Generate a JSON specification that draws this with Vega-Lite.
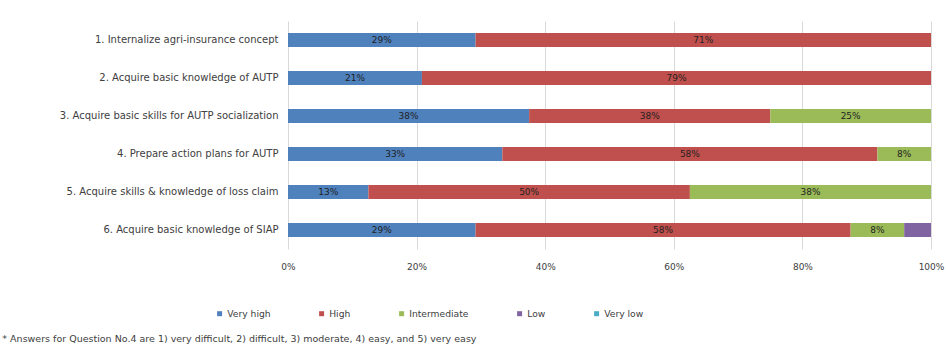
{
  "$schema": "https://vega.github.io/schema/vega-lite/v6.json",
  "width": 643,
  "height": 228,
  "autosize": {"type": "none"},
  "padding": {"left": 288, "top": 21, "right": 15, "bottom": 100},
  "background": "white",
  "config": {
    "font": "DejaVu Sans",
    "view": {"stroke": null},
    "axis": {"labelFont": "DejaVu Sans", "labelColor": "#404040", "labelFontSize": 9.5},
    "legend": {"labelFont": "DejaVu Sans"}
  },
  "title": {
    "text": "* Answers for Question No.4 are 1) very difficult, 2) difficult, 3) moderate, 4) easy, and 5) very easy",
    "orient": "bottom",
    "anchor": "start",
    "fontSize": 9.5,
    "fontWeight": "normal",
    "color": "#404040",
    "dx": -57,
    "offset": 15,
    "font": "DejaVu Sans"
  },
  "data": {
    "values": [
      {"task": "1. Internalize agri-insurance concept", "level": "Very high", "k": 1, "value": 0.2917},
      {"task": "1. Internalize agri-insurance concept", "level": "High", "k": 2, "value": 0.7083},
      {"task": "2. Acquire basic knowledge of AUTP", "level": "Very high", "k": 1, "value": 0.2083},
      {"task": "2. Acquire basic knowledge of AUTP", "level": "High", "k": 2, "value": 0.7917},
      {"task": "3. Acquire basic skills for AUTP socialization", "level": "Very high", "k": 1, "value": 0.375},
      {"task": "3. Acquire basic skills for AUTP socialization", "level": "High", "k": 2, "value": 0.375},
      {"task": "3. Acquire basic skills for AUTP socialization", "level": "Intermediate", "k": 3, "value": 0.25},
      {"task": "4. Prepare action plans for AUTP", "level": "Very high", "k": 1, "value": 0.3333},
      {"task": "4. Prepare action plans for AUTP", "level": "High", "k": 2, "value": 0.5833},
      {"task": "4. Prepare action plans for AUTP", "level": "Intermediate", "k": 3, "value": 0.0833},
      {"task": "5. Acquire skills & knowledge of loss claim", "level": "Very high", "k": 1, "value": 0.125},
      {"task": "5. Acquire skills & knowledge of loss claim", "level": "High", "k": 2, "value": 0.5},
      {"task": "5. Acquire skills & knowledge of loss claim", "level": "Intermediate", "k": 3, "value": 0.375},
      {"task": "6. Acquire basic knowledge of SIAP", "level": "Very high", "k": 1, "value": 0.2917},
      {"task": "6. Acquire basic knowledge of SIAP", "level": "High", "k": 2, "value": 0.5833},
      {"task": "6. Acquire basic knowledge of SIAP", "level": "Intermediate", "k": 3, "value": 0.0833},
      {"task": "6. Acquire basic knowledge of SIAP", "level": "Low", "k": 4, "value": 0.0417}
    ]
  },
  "transform": [
    {"stack": "value", "groupby": ["task"], "sort": [{"field": "k", "order": "ascending"}], "offset": "normalize", "as": ["x0", "x1"]},
    {"calculate": "(datum.x0 + datum.x1) / 2", "as": "xm"}
  ],
  "encoding": {
    "y": {
      "field": "task",
      "type": "nominal",
      "sort": null,
      "title": null,
      "scale": {"paddingInner": 0.63, "paddingOuter": 0.315},
      "axis": {"ticks": false, "domain": false, "labelPadding": 10, "labelLimit": 400, "labelFontSize": 10}
    }
  },
  "layer": [
    {
      "mark": {"type": "bar"},
      "encoding": {
        "x": {
          "field": "x0",
          "type": "quantitative",
          "scale": {"domain": [0, 1], "nice": false},
          "title": null,
          "axis": {
            "format": ".0%",
            "values": [0, 0.2, 0.4, 0.6, 0.8, 1],
            "grid": true,
            "gridColor": "#d9d9d9",
            "gridWidth": 1,
            "domain": false,
            "ticks": false,
            "labelFlush": false,
            "labelPadding": 13,
            "labelFontSize": 9
          }
        },
        "x2": {"field": "x1"},
        "color": {
          "field": "level",
          "type": "nominal",
          "scale": {
            "domain": ["Very high", "High", "Intermediate", "Low", "Very low"],
            "range": ["#4F81BD", "#C0504D", "#9BBB59", "#8064A2", "#4BACC6"]
          },
          "legend": {
            "title": null,
            "orient": "none",
            "direction": "horizontal",
            "legendX": -73,
            "legendY": 288,
            "symbolType": "square",
            "symbolSize": 25,
            "symbolStrokeWidth": 0,
            "labelFontSize": 9.2,
            "labelColor": "#404040",
            "labelOffset": 3,
            "columnPadding": 46,
            "values": ["Very high", "High", "Intermediate", "Low", "Very low"]
          }
        }
      }
    },
    {
      "transform": [{"filter": "datum.value > 0.05"}],
      "mark": {"type": "text", "fontSize": 9, "color": "#1f1f1f", "baseline": "middle", "align": "center"},
      "encoding": {
        "x": {"field": "xm", "type": "quantitative"},
        "text": {"field": "value", "type": "quantitative", "format": ".0%"}
      }
    }
  ]
}
